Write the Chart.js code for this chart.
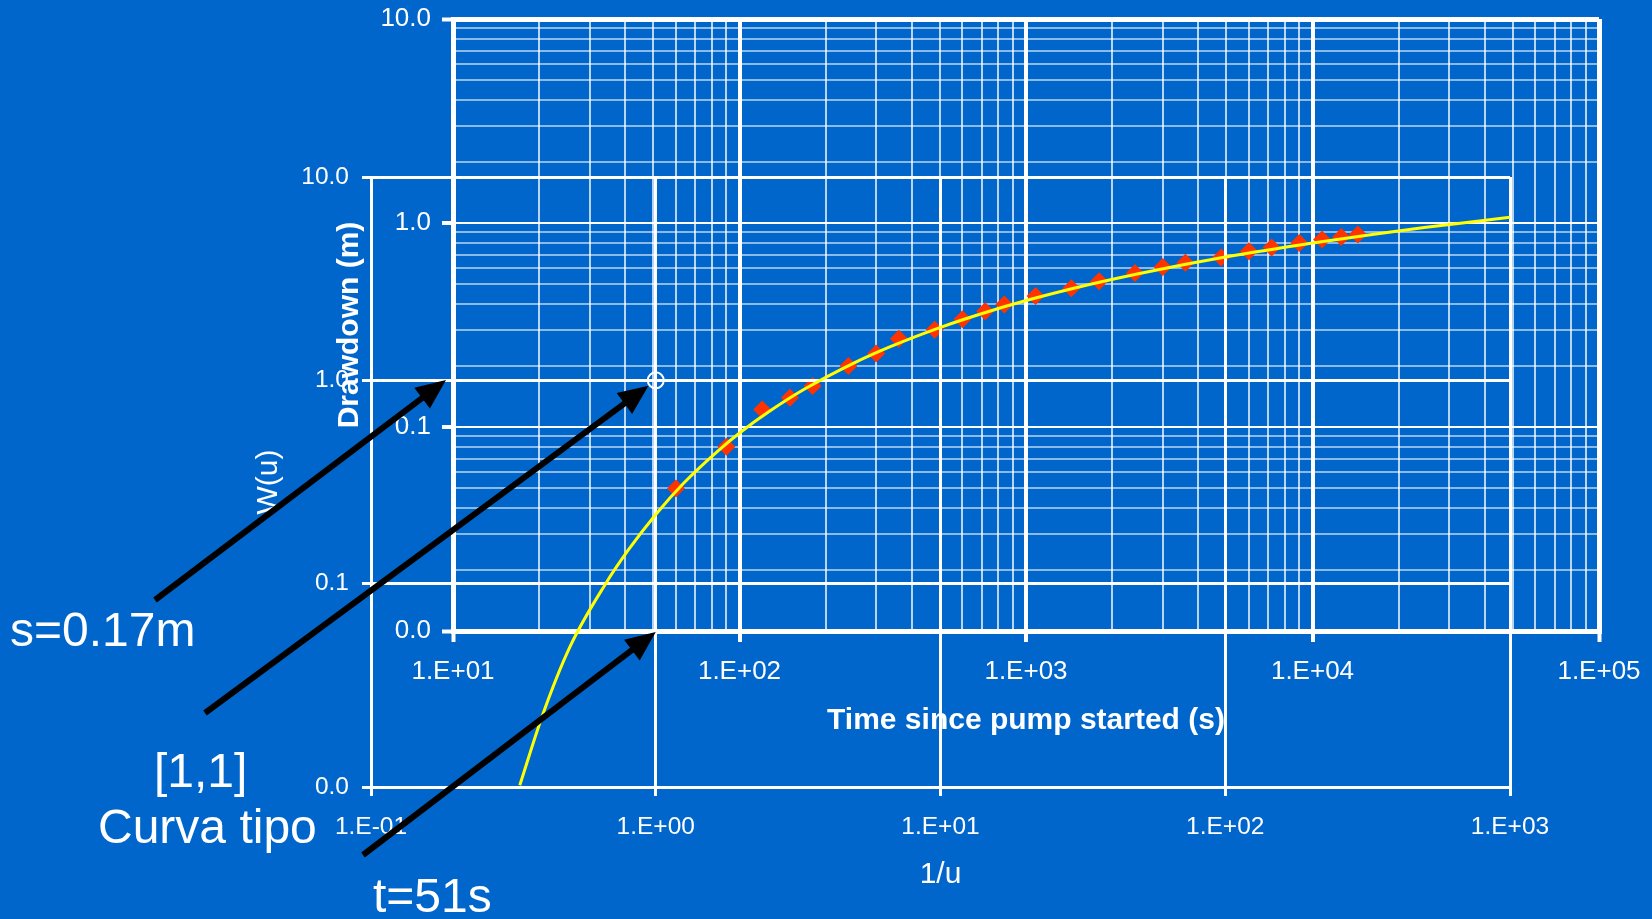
<!DOCTYPE html>
<html>
<head>
<meta charset="utf-8">
<title>Curva tipo de Theis</title>
<script src="https://cdn.jsdelivr.net/npm/chart.js@4/dist/chart.umd.min.js"></script>
<style>
  html, body { margin: 0; padding: 0; background: #0066CC; width: 1652px; height: 919px; overflow: hidden; }
  canvas { position: absolute; left: 0; top: 0; }
</style>
</head>
<body>
<canvas id="field" width="1652" height="919"></canvas>
<canvas id="typecurve" width="1652" height="919"></canvas>
<script>
// Observed drawdown during the pumping test
const timeS = [60, 90, 120, 150, 180, 240, 300, 360, 480, 600, 720, 840, 1080, 1440, 1800,
               2400, 3000, 3600, 4800, 6000, 7200, 9000, 10800, 12600, 14400];
const drawdownM = [0.050, 0.080, 0.122, 0.139, 0.159, 0.199, 0.229, 0.271, 0.300, 0.337, 0.369, 0.398,
                   0.439, 0.479, 0.518, 0.569, 0.609, 0.639, 0.677, 0.727, 0.758, 0.799, 0.830, 0.855, 0.878];

// Theis type curve: W(u) against 1/u
const invU = [0.333, 0.4, 0.5, 0.667, 0.8, 1, 1.25, 1.667, 2, 2.5, 3.333, 5, 6.667, 10,
              14.29, 20, 33.33, 50, 100, 200, 333.3, 500, 1000];
const wu = [0.0102, 0.0225, 0.049, 0.100, 0.146, 0.219, 0.311, 0.454, 0.560, 0.702, 0.906, 1.223, 1.465, 1.823,
            2.151, 2.468, 2.959, 3.355, 4.038, 4.726, 5.235, 5.639, 6.332];

// Match point [1,1] of the type curve and its field coordinates
const matchInvU = 1, matchW = 1;
const matchT = 51, matchS = 0.17;

// Axis decades (labelled ticks) and the minor steps between them
const fieldXDecades = [10, 100, 1000, 10000, 100000];
const fieldYDecades = [0.01, 0.1, 1, 10];
const curveXDecades = [0.1, 1, 10, 100, 1000];
const curveYDecades = [0.01, 0.1, 1, 10];
const minorSteps = [2, 3, 4, 5, 6, 7, 8, 9];

const FONT = "'Liberation Sans', Arial, Helvetica, sans-serif";
Chart.defaults.font.family = FONT;
Chart.defaults.color = '#FFFFFF';

const isDecade = v => Math.abs(Math.log10(v) - Math.round(Math.log10(v))) < 1e-6;
const sciLabel = v => {
  const e = Math.round(Math.log10(v));
  return '1.E' + (e < 0 ? '-' : '+') + String(Math.abs(e)).padStart(2, '0');
};
const fixedLabel = v => v.toFixed(1);

function withMinors(decades) {
  const out = [];
  decades.forEach((d, i) => {
    out.push(d);
    if (i < decades.length - 1) minorSteps.forEach(m => out.push(d * m));
  });
  return out.sort((a, b) => a - b);
}
const setTicks = list => scale => { scale.ticks = list.map(v => ({ value: v })); };
// fixed axis box sizes; the layout padding alone places the plot areas
const fixHeight = h => s => { s.height = h; s.paddingLeft = 0; s.paddingRight = 0; s.paddingTop = 0; s.paddingBottom = 0; };
const fixWidth = w => s => { s.width = w; s.paddingLeft = 0; s.paddingRight = 0; s.paddingTop = 0; s.paddingBottom = 0; };

// ---------- field data chart (behind) ----------
const fxTicks = withMinors(fieldXDecades);
const fyTicks = withMinors(fieldYDecades);
const fxMin = fieldXDecades[0], fxMax = fieldXDecades[fieldXDecades.length - 1];
const fyMin = fieldYDecades[0], fyMax = fieldYDecades[fieldYDecades.length - 1];

const fieldChart = new Chart(document.getElementById('field'), {
  type: 'scatter',
  data: {
    datasets: [{
      data: timeS.map((t, i) => ({ x: t, y: drawdownM[i] })),
      pointStyle: 'rectRot',
      pointRadius: 9,
      pointHoverRadius: 9,
      backgroundColor: '#FF3300',
      borderWidth: 0
    }]
  },
  options: {
    responsive: false,
    animation: false,
    devicePixelRatio: 1,
    events: [],
    layout: { padding: { left: 332, right: 53, top: 19, bottom: 180 } },
    plugins: { legend: { display: false }, tooltip: { enabled: false } },
    scales: {
      x: {
        type: 'logarithmic', position: 'bottom', min: fxMin, max: fxMax,
        afterBuildTicks: setTicks(fxTicks),
        afterFit: fixHeight(108),
        border: { display: true, color: '#FFFFFF', width: 5 },
        grid: {
          color: c => isDecade(c.tick.value) ? '#FFFFFF' : 'rgba(255,255,255,0.72)',
          lineWidth: c => (c.tick.value === fxMin || c.tick.value === fxMax) ? 5 : (isDecade(c.tick.value) ? 4 : 2),
          drawTicks: true, tickLength: 11,
          tickColor: c => isDecade(c.tick.value) ? '#FFFFFF' : 'rgba(0,0,0,0)',
          tickWidth: 4
        },
        ticks: {
          autoSkip: false, maxRotation: 0, minRotation: 0, padding: 14,
          color: '#FFFFFF', font: { size: 26 },
          callback: v => isDecade(v) ? sciLabel(v) : ''
        },
        title: {
          display: true, text: 'Time since pump started (s)', color: '#FFFFFF',
          font: { size: 30, weight: 'bold' }, padding: 0
        }
      },
      y: {
        type: 'logarithmic', position: 'left', min: fyMin, max: fyMax,
        afterBuildTicks: setTicks(fyTicks),
        afterFit: fixWidth(121),
        border: { display: true, color: '#FFFFFF', width: 5 },
        grid: {
          color: c => isDecade(c.tick.value) ? '#FFFFFF' : 'rgba(255,255,255,0.55)',
          lineWidth: c => (c.tick.value === fyMin || c.tick.value === fyMax) ? 5 : 2,
          drawTicks: true, tickLength: 11,
          tickColor: c => isDecade(c.tick.value) ? '#FFFFFF' : 'rgba(0,0,0,0)',
          tickWidth: 4
        },
        ticks: {
          autoSkip: false, padding: 11, color: '#FFFFFF', font: { size: 26 },
          callback: v => isDecade(v) ? fixedLabel(v) : ''
        },
        title: {
          display: true, text: 'Drawdown (m)', color: '#FFFFFF',
          font: { size: 30, weight: 'bold' }, padding: 0
        }
      }
    }
  }
});

// ---------- arrows and captions ----------
function drawArrow(ctx, x0, y0, x1, y1) {
  const a = Math.atan2(y1 - y0, x1 - x0);
  const headLen = 30, headHalf = 13;
  const bx = x1 - headLen * Math.cos(a), by = y1 - headLen * Math.sin(a);
  ctx.save();
  ctx.strokeStyle = '#000000';
  ctx.fillStyle = '#000000';
  ctx.lineWidth = 6;
  ctx.beginPath();
  ctx.moveTo(x0, y0);
  ctx.lineTo(bx + 2 * Math.cos(a), by + 2 * Math.sin(a));
  ctx.stroke();
  ctx.beginPath();
  ctx.moveTo(x1, y1);
  ctx.lineTo(bx + headHalf * Math.sin(a), by - headHalf * Math.cos(a));
  ctx.lineTo(bx - headHalf * Math.sin(a), by + headHalf * Math.cos(a));
  ctx.closePath();
  ctx.fill();
  ctx.restore();
}

const matchMarks = {
  id: 'matchMarks',
  afterDraw(chart) {
    const ctx = chart.ctx;
    const fx = fieldChart.scales.x, fy = fieldChart.scales.y;
    const cx = chart.scales.x, cy = chart.scales.y;

    // s on the drawdown axis
    const sTail = { x: 155, y: 600 };
    drawArrow(ctx, sTail.x, sTail.y, fieldChart.chartArea.left - 7, fy.getPixelForValue(matchS));

    // [1,1] on the type curve, stopping at the marker ring
    const mTail = { x: 205, y: 713 };
    const px = cx.getPixelForValue(matchInvU), py = cy.getPixelForValue(matchW);
    const d = Math.hypot(px - mTail.x, py - mTail.y);
    drawArrow(ctx, mTail.x, mTail.y, px - 9 * (px - mTail.x) / d, py - 9 * (py - mTail.y) / d);

    // t on the time axis
    const tTail = { x: 363, y: 855 };
    drawArrow(ctx, tTail.x, tTail.y, fx.getPixelForValue(matchT), fieldChart.chartArea.bottom + 1);

    ctx.save();
    ctx.fillStyle = '#FFFFFF';
    ctx.font = '48px ' + FONT;
    ctx.textAlign = 'left';
    ctx.textBaseline = 'alphabetic';
    ctx.fillText('s=' + matchS + 'm', 10, 646);
    ctx.fillText('[' + matchInvU + ',' + matchW + ']', 154, 787);
    ctx.fillText('Curva tipo', 98, 843);
    ctx.fillText('t=' + matchT + 's', 373, 912);
    ctx.restore();
  }
};

// ---------- type curve (transparent overlay) ----------
const cxTicks = curveXDecades.slice();
const cyTicks = curveYDecades.slice();
const cxMin = curveXDecades[0], cxMax = curveXDecades[curveXDecades.length - 1];
const cyMin = curveYDecades[0], cyMax = curveYDecades[curveYDecades.length - 1];

new Chart(document.getElementById('typecurve'), {
  type: 'scatter',
  data: {
    datasets: [{
      data: invU.map((x, i) => ({ x: x, y: wu[i] })),
      showLine: true,
      borderColor: '#FFFF00',
      borderWidth: 3,
      pointRadius: 0,
      pointHoverRadius: 0,
      cubicInterpolationMode: 'monotone',
      fill: false
    }, {
      data: [{ x: matchInvU, y: matchW }],
      pointStyle: 'circle',
      pointRadius: 8,
      pointHoverRadius: 8,
      borderColor: '#FFFFFF',
      borderWidth: 2,
      backgroundColor: 'rgba(0,0,0,0)'
    }]
  },
  options: {
    responsive: false,
    animation: false,
    devicePixelRatio: 1,
    events: [],
    layout: { padding: { left: 251, right: 142, top: 177, bottom: 26 } },
    plugins: { legend: { display: false }, tooltip: { enabled: false } },
    scales: {
      x: {
        type: 'logarithmic', position: 'bottom', min: cxMin, max: cxMax,
        afterBuildTicks: setTicks(cxTicks),
        afterFit: fixHeight(106),
        border: { display: true, color: '#FFFFFF', width: 3 },
        grid: { color: '#FFFFFF', lineWidth: 3, drawTicks: true, tickLength: 9, tickColor: '#FFFFFF', tickWidth: 3 },
        ticks: {
          autoSkip: false, maxRotation: 0, minRotation: 0, padding: 17,
          color: '#FFFFFF', font: { size: 24.5 },
          callback: v => sciLabel(v)
        },
        title: { display: true, text: '1/u', color: '#FFFFFF', font: { size: 30 }, padding: 0 }
      },
      y: {
        type: 'logarithmic', position: 'left', min: cyMin, max: cyMax,
        afterBuildTicks: setTicks(cyTicks),
        afterFit: fixWidth(120),
        border: { display: true, color: '#FFFFFF', width: 3 },
        grid: { color: '#FFFFFF', lineWidth: 3, drawTicks: true, tickLength: 9, tickColor: '#FFFFFF', tickWidth: 3 },
        ticks: {
          autoSkip: false, padding: 13, color: '#FFFFFF', font: { size: 24.5 },
          callback: v => fixedLabel(v)
        },
        title: { display: true, text: 'W(u)', color: '#FFFFFF', font: { size: 30 }, padding: 0 }
      }
    }
  },
  plugins: [matchMarks]
});
</script>
</body>
</html>
